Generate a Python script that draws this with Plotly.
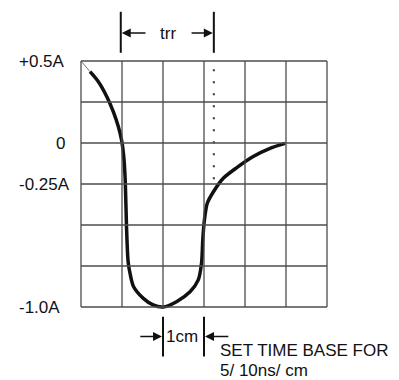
"""Reverse recovery time (trr) test waveform on a 6x6 scope graticule."""

import plotly.graph_objects as go

# graticule, in divisions
GRID_COLS = 6
GRID_ROWS = 6

# current waveform, (division, division)
wave_x = [0.22, 0.42, 0.63, 0.79, 0.91, 0.99, 1.05, 1.08, 1.11, 1.15, 1.20,
          1.28, 1.52, 1.76, 2.00, 2.33, 2.66, 2.86, 2.94, 2.97, 3.01,
          3.08, 3.23, 3.47, 3.80, 4.20, 4.61, 4.98]
wave_y = [5.74, 5.50, 5.13, 4.76, 4.40, 4.07, 3.59, 3.05, 1.96, 1.10, 0.80,
          0.50, 0.21, 0.05, 0.00, 0.13, 0.37, 0.66, 1.07, 1.63, 2.12,
          2.53, 2.81, 3.14, 3.40, 3.67, 3.87, 3.99]
lead_x = [0.0, 0.22]
lead_y = [6.0, 5.74]

# y axis labels
y_tick_vals = [6, 4, 3, 0]
y_tick_text = ["+0.5A", "0", "-0.25A", "-1.0A"]

# trr marker and time-base marker
trr_x = [0.97, 3.24]
trr_dots_y = [5.8, 3.05]
cm_x = [2.0, 3.0]

FONT = "Liberation Sans, Arial, sans-serif"
INK = "#111111"
GRID = "#4d4d4d"

fig = go.Figure()

# graticule
shapes = []
for i in range(GRID_COLS + 1):
    shapes.append(dict(type="line", x0=i, x1=i, y0=0, y1=GRID_ROWS,
                       line=dict(color=GRID, width=1.3)))
for j in range(GRID_ROWS + 1):
    shapes.append(dict(type="line", x0=0, x1=GRID_COLS, y0=j, y1=j,
                       line=dict(color=GRID, width=1.3)))

# marker bars
for x in trr_x:
    shapes.append(dict(type="line", x0=x, x1=x, y0=6.2, y1=7.2,
                       line=dict(color=INK, width=2)))
for x in cm_x:
    shapes.append(dict(type="line", x0=x, x1=x, y0=-0.24, y1=-1.21,
                       line=dict(color=INK, width=2)))

fig.add_trace(go.Scatter(
    x=lead_x, y=lead_y, mode="lines",
    line=dict(color="#777777", width=1), hoverinfo="skip",
))
fig.add_trace(go.Scatter(
    x=wave_x, y=wave_y, mode="lines",
    line=dict(color=INK, width=3.5, shape="spline", smoothing=0.8),
    hoverinfo="skip",
))
fig.add_trace(go.Scatter(
    x=[trr_x[1], trr_x[1]], y=trr_dots_y, mode="lines",
    line=dict(color="#333333", width=2, dash="2px,10px"), hoverinfo="skip",
))

annotations = []
for v, t in zip(y_tick_vals, y_tick_text):
    if t == "0":
        annotations.append(dict(x=-0.34, y=v, text=t, xanchor="right"))
    else:
        annotations.append(dict(x=-1.56, y=v, text=t, xanchor="left"))

annotations += [
    dict(x=2.12, y=6.68, text="trr", xanchor="center"),
    dict(x=2.46, y=-0.72, text="1cm", xanchor="center"),
    dict(x=3.34, y=-1.05, text="SET TIME BASE FOR", xanchor="left"),
    dict(x=3.34, y=-1.54, text="5/ 10ns/ cm", xanchor="left"),
]
for a in annotations:
    a.update(showarrow=False, yanchor="middle",
             font=dict(family=FONT, size=17, color=INK))

# arrows: (tail, head)
arrows = [
    ((1.61, 6.68), (trr_x[0], 6.68)),
    ((2.66, 6.68), (trr_x[1], 6.68)),
    ((1.41, -0.72), (cm_x[0], -0.72)),
    ((3.63, -0.72), (cm_x[1], -0.72)),
]
for (tx, ty), (hx, hy) in arrows:
    annotations.append(dict(
        x=hx, y=hy, ax=tx, ay=ty, axref="x", ayref="y", text="",
        showarrow=True, arrowhead=2, arrowsize=1.2, arrowwidth=1.5,
        arrowcolor=INK, standoff=1,
    ))

fig.update_layout(
    width=399, height=380,
    margin=dict(l=0, r=0, t=0, b=0),
    paper_bgcolor="white", plot_bgcolor="white",
    showlegend=False,
    shapes=shapes,
    annotations=annotations,
    xaxis=dict(range=[-81 / 41, 318 / 41], visible=False, fixedrange=True),
    yaxis=dict(range=[-73 / 41, 6 + 61 / 41], visible=False, fixedrange=True),
)

fig.write_html(
    "out.html",
    config={"displayModeBar": False},
    post_script="document.body.style.margin='0';",
)
